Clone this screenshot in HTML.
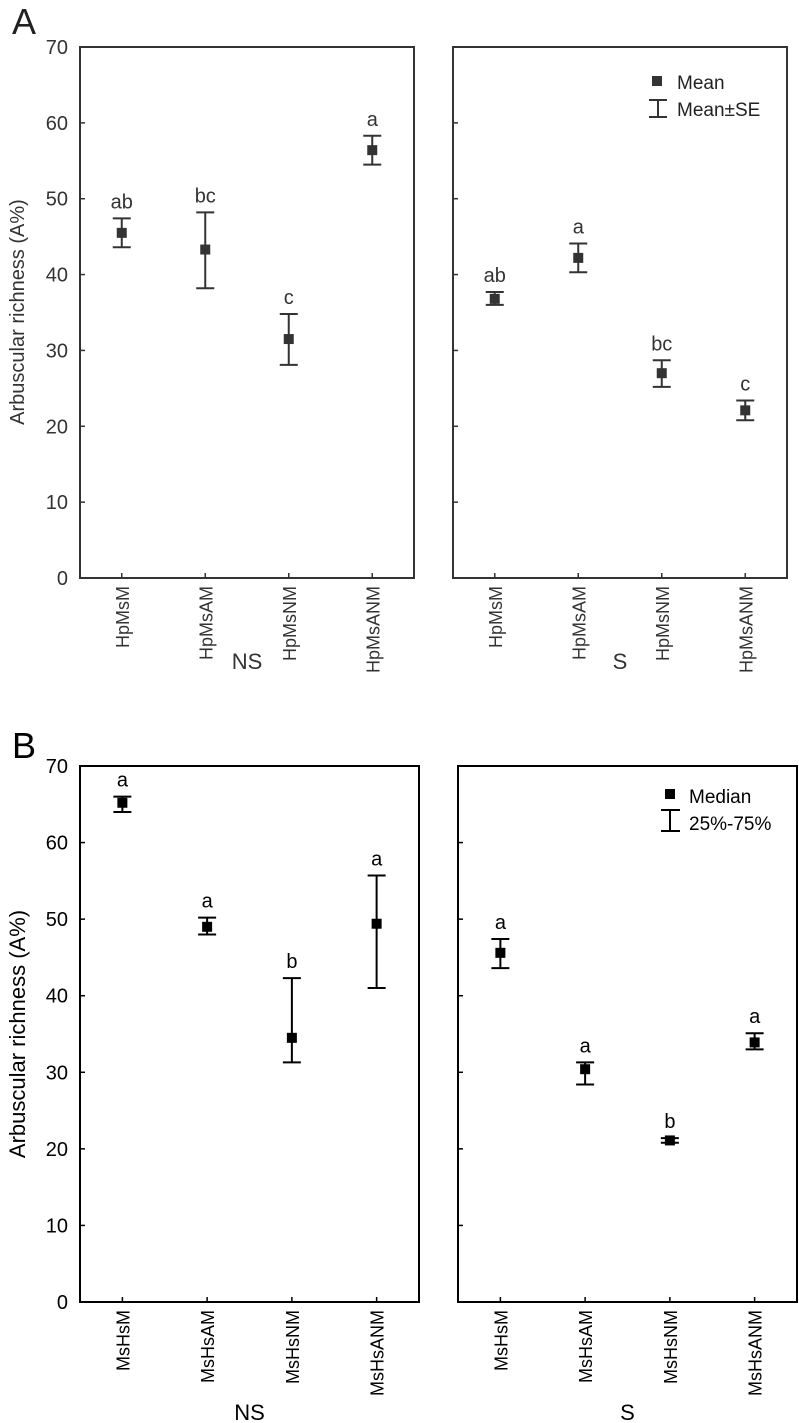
<!DOCTYPE html>
<html><head><meta charset="utf-8"><style>
body{margin:0;background:#fff;}
svg{display:block;font-family:"Liberation Sans",Arial,sans-serif;}
</style></head><body>
<svg id="chart" width="799" height="1423"></svg>
<script>
const catsA = ["HpMsM","HpMsAM","HpMsNM","HpMsANM"];
const catsB = ["MsHsM","MsHsAM","MsHsNM","MsHsANM"];
const yTicks = [0,10,20,30,40,50,60,70];
const aNSMean = [45.5,43.3,31.5,56.4];
const aNSLow = [43.6,38.2,28.1,54.5];
const aNSHigh = [47.4,48.2,34.8,58.3];
const aNSLetters = ["ab","bc","c","a"];
const aSMean = [36.8,42.2,27.0,22.1];
const aSLow = [36.0,40.3,25.2,20.8];
const aSHigh = [37.7,44.1,28.7,23.4];
const aSLetters = ["ab","a","bc","c"];
const bNSMed = [65.2,49.0,34.5,49.4];
const bNSLow = [64.0,48.0,31.3,41.0];
const bNSHigh = [66.0,50.2,42.3,55.7];
const bNSLetters = ["a","a","b","a"];
const bSMed = [45.6,30.4,21.1,33.9];
const bSLow = [43.6,28.4,20.8,33.0];
const bSHigh = [47.4,31.3,21.4,35.1];
const bSLetters = ["a","a","b","a"];

const NS="http://www.w3.org/2000/svg";
const svg=document.getElementById('chart');
function mk(tag,attrs,parent){const e=document.createElementNS(NS,tag);for(const k in attrs)e.setAttribute(k,attrs[k]);(parent||svg).appendChild(e);return e;}
function txt(s,attrs,parent){const e=mk('text',attrs,parent);e.textContent=s;return e;}

function panel(o){
  const g=mk('g',{});
  
  
  const y=v=>o.y0-(v/70)*(o.y0-o.y1);
  const x=i=>o.x0+(i+0.5)*(o.x1-o.x0)/4;
  const c=o.color;
  const box=mk('rect',{x:o.x0,y:o.y1,width:o.x1-o.x0,height:o.y0-o.y1,fill:'none',stroke:c,'stroke-width':2},g);
  
  
  yTicks.forEach(t=>{
    const tk=mk('line',{x1:o.x0,x2:o.x0+5,y1:y(t),y2:y(t),stroke:c,'stroke-width':1.5},g);
    
    
    if(o.labels){
      const tl=txt(String(t),{x:o.x0-12,y:y(t)+7,'text-anchor':'end','font-size':20,fill:c},g);
      
      
    }
  });
  o.cats.forEach((cat,i)=>{
    const xi=x(i);
    const tk=mk('line',{x1:xi,x2:xi,y1:o.y0,y2:o.y0-5,stroke:c,'stroke-width':1.5},g);
    
    
    const cl=txt(cat,{x:0,y:0,transform:`translate(${xi+7},${o.y0+8}) rotate(-90)`,'text-anchor':'end','font-size':18,fill:c},g);
    
    
    const yl=y(o.low[i]),yh=y(o.high[i]),ym=y(o.mid[i]);
    const eb=mk('path',{d:`M${xi-9},${yh}H${xi+9}M${xi},${yh}V${yl}M${xi-9},${yl}H${xi+9}`,stroke:c,'stroke-width':2,fill:'none'},g);
    
    
    const pt=mk('rect',{x:xi-5,y:ym-5,width:10,height:10,fill:c},g);
    
    
    const lt=txt(o.letters[i],{x:xi,y:yh-10,'text-anchor':'middle','font-size':20,fill:c},g);
    
    
  });
  const gl=txt(o.group,{x:(o.x0+o.x1)/2,y:o.groupY,'text-anchor':'middle','font-size':22,fill:c},g);
  
  
}

panel({name:'panel-a-ns',x0:80,x1:414,y0:578,y1:47,cats:catsA,mid:aNSMean,low:aNSLow,high:aNSHigh,letters:aNSLetters,group:'NS',groupY:669,labels:true,color:'#333'});
panel({name:'panel-a-s',x0:453,x1:787,y0:578,y1:47,cats:catsA,mid:aSMean,low:aSLow,high:aSHigh,letters:aSLetters,group:'S',groupY:669,labels:false,color:'#333'});
panel({name:'panel-b-ns',x0:80,x1:419,y0:1302,y1:766,cats:catsB,mid:bNSMed,low:bNSLow,high:bNSHigh,letters:bNSLetters,group:'NS',groupY:1420,labels:true,color:'#000'});
panel({name:'panel-b-s',x0:458,x1:797,y0:1302,y1:766,cats:catsB,mid:bSMed,low:bSLow,high:bSHigh,letters:bSLetters,group:'S',groupY:1420,labels:false,color:'#000'});
</script>
<div style="position:absolute;left:0;top:0;width:799px;height:1423px;pointer-events:none;">
<svg width="799" height="1423" style="position:absolute;left:0;top:0">
  <text x="12" y="34" font-size="36" fill="#222">A</text>
  <text x="12" y="758" font-size="36" fill="#000">B</text>
  <text transform="translate(24,312) rotate(-90)" text-anchor="middle" font-size="20" fill="#333">Arbuscular richness (A%)</text>
  <text transform="translate(25,1034) rotate(-90)" text-anchor="middle" font-size="22" fill="#000">Arbuscular richness (A%)</text>
  <g>
    <rect x="652" y="76" width="10" height="10" fill="#333"/>
    <text x="677" y="89" font-size="19" fill="#222">Mean</text>
    <path d="M649,100H667M658,100V117M649,117H667" stroke="#333" stroke-width="2" fill="none"/>
    <text x="677" y="116" font-size="19" fill="#222">Mean±SE</text>
  </g>
  <g>
    <rect x="665" y="789" width="10" height="10" fill="#000"/>
    <text x="689" y="803" font-size="19" fill="#000">Median</text>
    <path d="M661,810H680M670,810V831M661,831H680" stroke="#000" stroke-width="2" fill="none"/>
    <text x="689" y="830" font-size="19" fill="#000">25%-75%</text>
  </g>
</svg>
</div>
</body></html>
